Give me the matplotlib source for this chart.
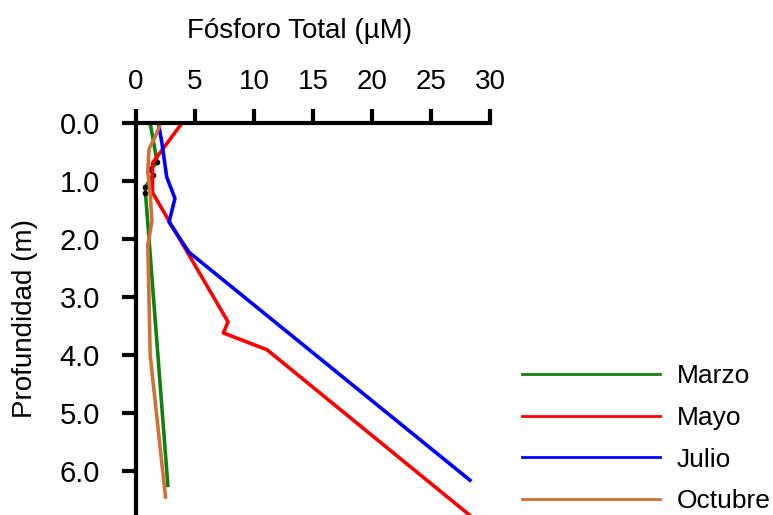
import matplotlib
matplotlib.use("Agg")
import matplotlib.pyplot as plt

plt.rcParams['font.family'] = ['Liberation Sans', 'DejaVu Sans']

# phosphorus (uM) vs depth (m) for each month
marzo_p = [1.2, 1.8, 1.2, 1.45, 0.8, 0.8, 2.7]
marzo_z = [0.0, 0.68, 0.8, 0.9, 1.1, 1.2, 6.25]

mayo_p = [3.9, 1.4, 1.4, 7.8, 7.4, 11.1, 28.5]
mayo_z = [0.0, 0.69, 1.2, 3.43, 3.62, 3.91, 6.8]

julio_p = [1.9, 2.2, 2.6, 3.3, 2.8, 4.5, 28.3]
julio_z = [0.0, 0.35, 0.93, 1.3, 1.71, 2.23, 6.16]

octubre_p = [2.1, 1.6, 1.1, 1.0, 1.2, 1.35, 1.0, 1.1, 1.2, 2.5]
octubre_z = [0.0, 0.25, 0.45, 0.85, 1.2, 1.7, 2.1, 3.0, 4.0, 6.45]

x_ticks = [0, 5, 10, 15, 20, 25, 30]
y_ticks = [0.0, 1.0, 2.0, 3.0, 4.0, 5.0, 6.0]

fig = plt.figure(figsize=(7.73, 5.15), dpi=100)
ax = fig.add_axes([136 / 773, 0.0, 354 / 773, 392 / 515])

lw = 2.6
ax.plot(marzo_p, marzo_z, color='#108010', lw=lw, label='Marzo',
        marker='o', markersize=3, markerfacecolor='black',
        markeredgecolor='black', markevery=slice(1, 6))
ax.plot(mayo_p, mayo_z, color='#ff0000', lw=lw, label='Mayo')
ax.plot(julio_p, julio_z, color='#0000ff', lw=lw, label='Julio')
ax.plot(octubre_p, octubre_z, color='#d2703a', lw=lw, label='Octubre')

ax.set_xlim(0, 30)
ax.set_ylim(6.76, 0)
ax.set_xticks(x_ticks)
ax.set_yticks(y_ticks)
ax.set_yticklabels([f"{v:.1f}" for v in y_ticks])

ax.xaxis.tick_top()
ax.xaxis.set_label_position('top')
for s in ['right', 'bottom']:
    ax.spines[s].set_visible(False)
for s in ['top', 'left']:
    ax.spines[s].set_linewidth(3)

ax.tick_params(axis='x', direction='out', length=10, width=3, pad=10,
               labelsize=20)
ax.tick_params(axis='y', direction='out', length=10, width=3, pad=16,
               labelsize=21)

ax.set_xlabel('Fósforo Total (µM)', fontsize=20)
ax.xaxis.set_label_coords((300 - 136) / 354, (515 - 38) / 392)
ax.set_ylabel('Profundidad (m)', fontsize=20)
ax.yaxis.set_label_coords((38 - 136) / 354, 0.5)

leg = fig.legend(loc='lower left', bbox_to_anchor=(498 / 773, -22 / 515),
                 frameon=False, fontsize=19, handlelength=5.23,
                 handletextpad=0.64, labelspacing=0.67)
for h in leg.legend_handles:
    h.set_linewidth(2.0)
    h.set_marker('')

fig.savefig('out.png', dpi=100)
